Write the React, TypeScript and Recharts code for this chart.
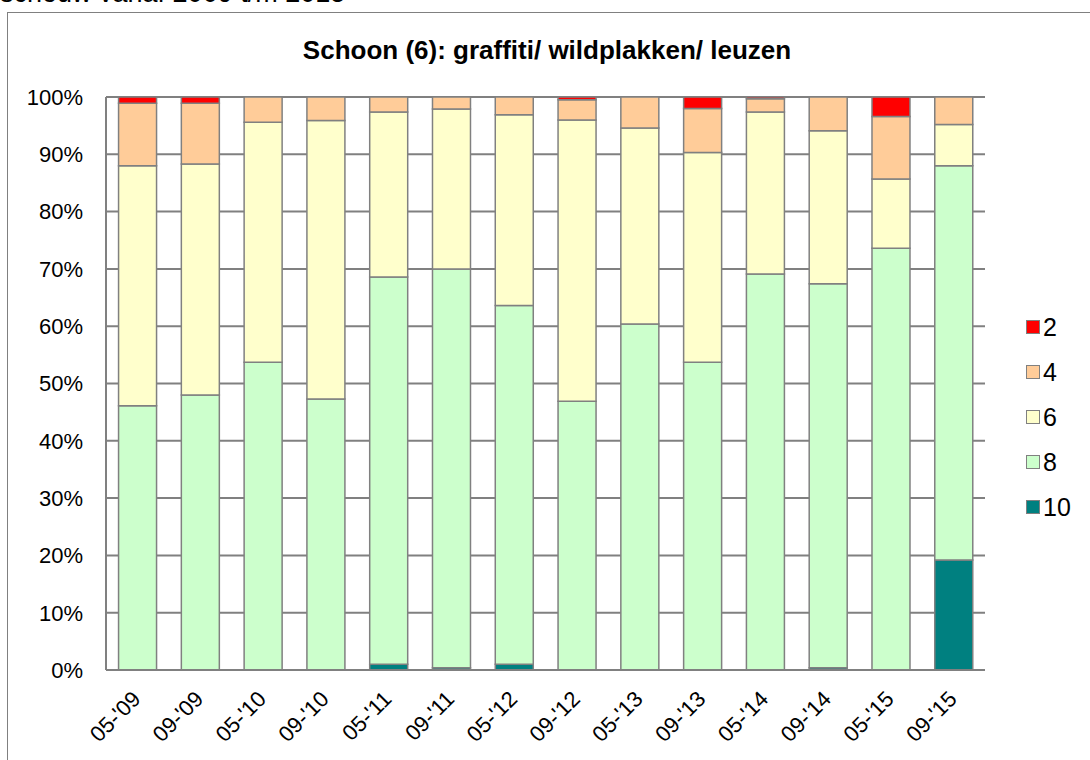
import React from "react";
import { BarChart, Bar, XAxis, YAxis, CartesianGrid } from "recharts";

const categories = ["05-'09", "09-'09", "05-'10", "09-'10", "05-'11", "09-'11", "05-'12", "09-'12", "05-'13", "09-'13", "05-'14", "09-'14", "05-'15", "09-'15"];
const s10 = [0, 0, 0, 0, 1.0, 0.4, 1.0, 0, 0, 0, 0, 0.4, 0, 19.2];
const s8 = [46.1, 48.0, 53.7, 47.3, 67.6, 69.6, 62.6, 46.9, 60.4, 53.7, 69.1, 67.0, 73.6, 68.8];
const s6 = [41.9, 40.3, 41.9, 48.6, 28.8, 27.9, 33.3, 49.1, 34.2, 36.6, 28.3, 26.7, 12.1, 7.2];
const s4 = [10.9, 10.6, 4.4, 4.1, 2.6, 2.1, 3.1, 3.5, 5.4, 7.7, 2.3, 5.9, 10.9, 4.8];
const s2 = [1.1, 1.1, 0, 0, 0, 0, 0, 0.5, 0, 2.0, 0.3, 0, 3.4, 0];
const yTicks = [0, 10, 20, 30, 40, 50, 60, 70, 80, 90, 100];

const series = [
  { key: "s10", name: "10", values: s10, color: "#008080" },
  { key: "s8", name: "8", values: s8, color: "#CCFFCC" },
  { key: "s6", name: "6", values: s6, color: "#FFFFCC" },
  { key: "s4", name: "4", values: s4, color: "#FFCC99" },
  { key: "s2", name: "2", values: s2, color: "#FF0000" },
];

const data = categories.map((c, i) => {
  const row: any = { cat: c };
  series.forEach((s) => (row[s.key] = s.values[i]));
  return row;
});

const FONT = "Arial, 'Liberation Sans', sans-serif";

const XTick = (props: any) => {
  const { x, y, payload } = props;
  return (
    <g transform={`translate(${x - 1},${y + 17})`}>
      <text x={0} y={0} dy="0.35em" textAnchor="end" transform="rotate(-45)" fontSize={22} fontFamily={FONT} fill="#000">
        {payload.value}
      </text>
    </g>
  );
};

export default function App() {
  const legendItems = [...series].reverse();
  return (
    <div style={{ position: "absolute", left: 0, top: 0, width: 1090, height: 760, overflow: "hidden", background: "#fff", fontFamily: FONT }}>
      <div style={{ position: "absolute", left: 0, top: -20, fontSize: 27, lineHeight: "27px", whiteSpace: "nowrap", color: "#000" }}>
        schouw vanaf 2009 t/m 2015
      </div>
      <div style={{ position: "absolute", left: 7, top: 12, width: 1100, height: 760, border: "1px solid #808080", boxSizing: "border-box" }} />
      <div style={{ position: "absolute", left: 0, top: 35, width: 1094, textAlign: "center", fontSize: 26, fontWeight: "bold", lineHeight: "30px", color: "#000" }}>
        Schoon (6): graffiti/ wildplakken/ leuzen
      </div>
      <div style={{ position: "absolute", left: 0, top: 0 }}>
        <BarChart width={1090} height={760} data={data} margin={{ top: 97, right: 105, bottom: 0, left: 0 }} barCategoryGap="20%">
          <CartesianGrid vertical={false} stroke="#808080" strokeWidth={2} />
          <XAxis dataKey="cat" height={90} interval={0} tick={<XTick />} tickLine={false} axisLine={{ stroke: "#808080", strokeWidth: 2 }} />
          <YAxis
            width={106}
            domain={[0, 100]}
            ticks={yTicks}
            tickFormatter={(v: number) => `${v}%`}
            tickLine={false}
            tickMargin={17}
            axisLine={{ stroke: "#808080", strokeWidth: 2 }}
            tick={{ fontSize: 22, fill: "#000", fontFamily: FONT }}
            allowDataOverflow
          />
          {series.map((s) => (
            <Bar key={s.key} dataKey={s.key} name={s.name} stackId="a" fill={s.color} stroke="#808080" strokeWidth={1.5} isAnimationActive={false} />
          ))}
        </BarChart>
      </div>
      {legendItems.map((s, i) => (
        <div key={s.key} style={{ position: "absolute", left: 1026, top: 327 + i * 45 - 15, height: 30, display: "flex", alignItems: "center" }}>
          <div style={{ width: 12, height: 12, background: s.color, border: "1.5px solid #808080" }} />
          <span style={{ marginLeft: 3, fontSize: 25, lineHeight: "30px", color: "#000" }}>{s.name}</span>
        </div>
      ))}
    </div>
  );
}
